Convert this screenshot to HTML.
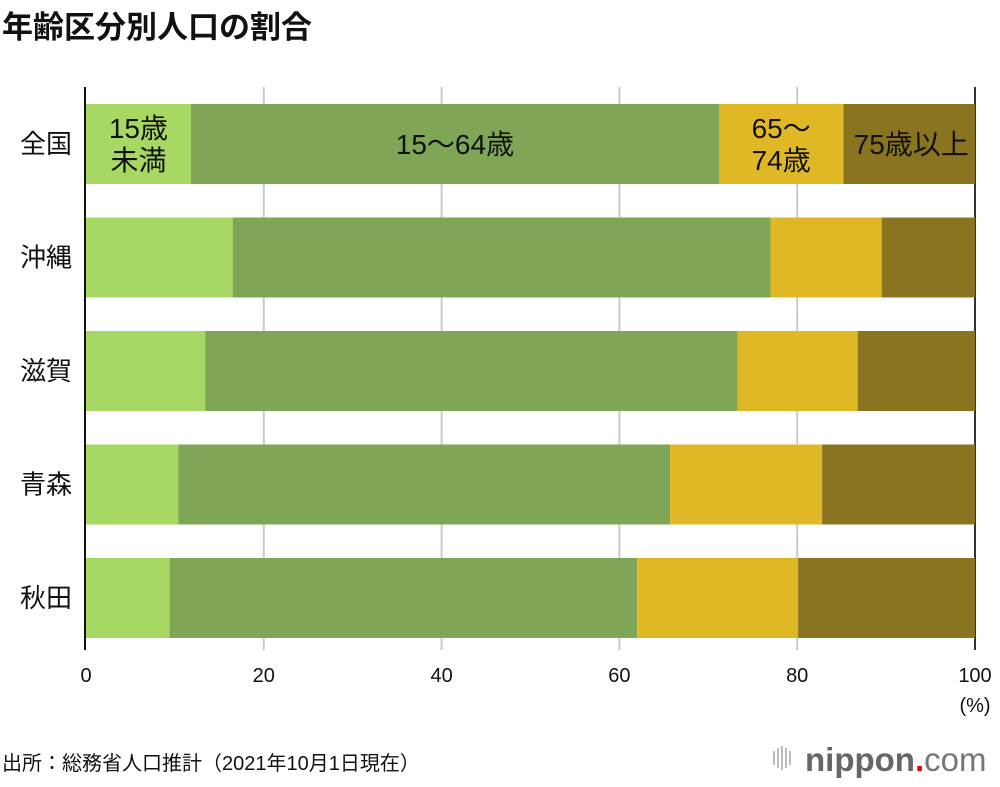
<!DOCTYPE html>
<html><head><meta charset="utf-8"><style>
body{margin:0;background:#fff;}
svg text{font-family:"Liberation Sans","Noto Sans CJK JP",sans-serif;}
</style></head><body>
<svg id="chart" width="1000" height="782" viewBox="0 0 1000 782" xmlns="http://www.w3.org/2000/svg">
<text x="2" y="38" font-size="31" font-weight="bold" fill="#111">年齢区分別人口の割合</text>
<g id="grid"></g>
<g id="bars"></g>
<g id="labels"></g>
<text x="2" y="770" font-size="20" fill="#111">出所：総務省人口推計（2021年10月1日現在）</text>
<g>
<g fill="#bbb"><rect x="773" y="751" width="2" height="14"/><rect x="777" y="748" width="2" height="20"/><rect x="781" y="746" width="2" height="24"/><rect x="785" y="748" width="2" height="20"/><rect x="789" y="751" width="2" height="14"/></g>
<text x="805" y="771" font-size="33" font-weight="bold" fill="#666">nippon<tspan fill="#e00">.</tspan><tspan font-weight="normal" fill="#777">com</tspan></text>
</g>
</svg>
<script>
const regions = ["全国","沖縄","滋賀","青森","秋田"];
const under15 = [11.8, 16.5, 13.4, 10.4, 9.4];
const age15to64 = [59.4, 60.5, 59.9, 55.3, 52.6];
const age65to74 = [14.0, 12.5, 13.5, 17.1, 18.1];
const age75plus = [14.8, 10.5, 13.2, 17.2, 19.9];
const ticks = [0,20,40,60,80,100];
const seriesNames = ["15歳未満","15〜64歳","65〜74歳","75歳以上"];
const colors = ["#a8d864","#7fa656","#e0b826","#8a7420"];
const series = [under15, age15to64, age65to74, age75plus];
const NS="http://www.w3.org/2000/svg";
const x0=86, x1=975;
const xs=v=>x0+(x1-x0)*v/100;
const rowY=i=>104+i*113.5, barH=80;
function mk(tag,attrs,parent,txt){const e=document.createElementNS(NS,tag);for(const k in attrs)e.setAttribute(k,attrs[k]);if(txt!==undefined)e.textContent=txt;parent.appendChild(e);return e;}
const grid=document.getElementById('grid'), bars=document.getElementById('bars'), labels=document.getElementById('labels');
ticks.forEach(t=>{
  if(t>0){const l=mk('line',{x1:xs(t),x2:xs(t),y1:87,y2:650,stroke:t===100?'#333':'#ccc','stroke-width':2},grid);
  
  }
  const tx=mk('text',{x:xs(t),y:682,'font-size':20,'text-anchor':'middle',fill:'#111'},grid,String(t));
  
  
});
const u=mk('text',{x:975,y:712,'font-size':20,'text-anchor':'middle',fill:'#111'},grid,'(%)');


regions.forEach((r,i)=>{
  let acc=0;
  series.forEach((s,j)=>{
    const rc=mk('rect',{x:xs(acc),y:rowY(i),width:xs(acc+s[i])-xs(acc),height:barH,fill:colors[j]},bars);
    
    
    acc+=s[i];
  });
  const t=mk('text',{x:72,y:rowY(i)+barH/2+9,'font-size':26,'text-anchor':'end',fill:'#111'},labels,r);
  
  
});
const ax=mk('line',{x1:85,x2:85,y1:87,y2:650,stroke:'#111','stroke-width':2},grid);


const y=rowY(0);
function lab(lines,cx,name){
  lines.forEach((ln,k)=>{
    const t=mk('text',{x:cx,y:y+(lines.length===1?50:34+k*32),'font-size':28,'text-anchor':'middle',fill:'#111'},labels,ln);
    
    
  });
}
let a=0;
lab(["15歳","未満"],(xs(0)+xs(under15[0]))/2,'legend-under15');a+=under15[0];
lab(["15〜64歳"],(xs(a)+xs(a+age15to64[0]))/2,'legend-15-64');a+=age15to64[0];
lab(["65〜","74歳"],(xs(a)+xs(a+age65to74[0]))/2,'legend-65-74');a+=age65to74[0];
lab(["75歳以上"],(xs(a)+xs(100))/2+2,'legend-75plus');
</script>
</body></html>
